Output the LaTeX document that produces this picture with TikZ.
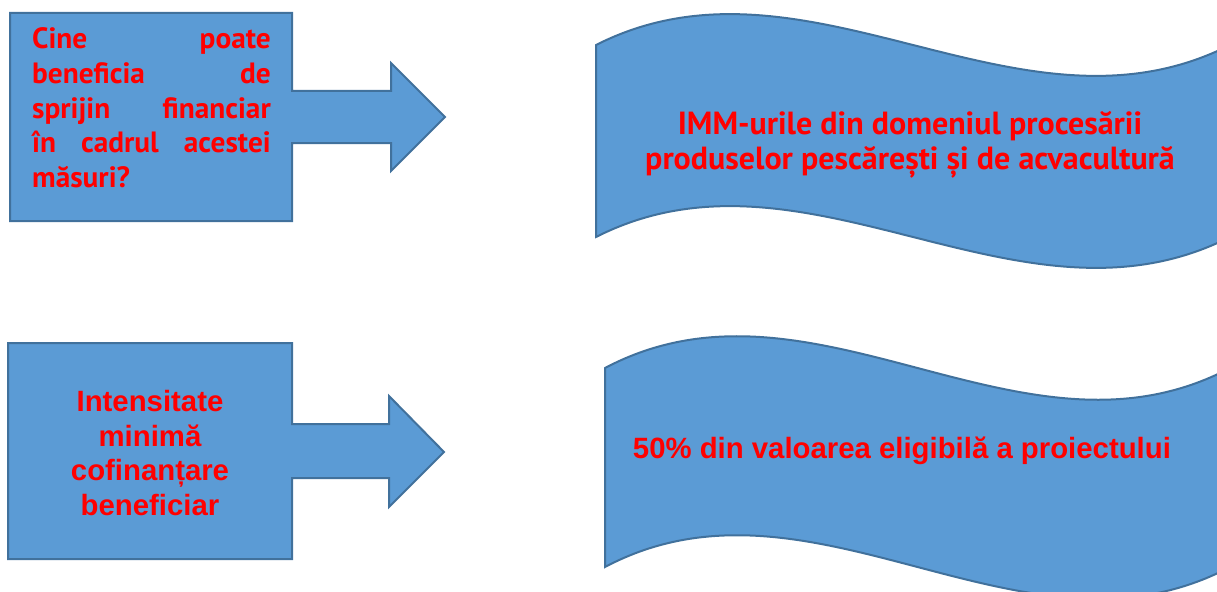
\documentclass[tikz,border=0pt]{standalone}
\usepackage{fontspec}
\setmainfont{PT Sans}
\newfontfamily\arialfont{Liberation Sans}
\usepackage{tikz}
\definecolor{boxfill}{HTML}{5B9BD5}
\definecolor{boxline}{HTML}{41719C}
\tikzstyle{bluebox}=[fill=boxfill, draw=boxline, line width=1.5pt, line join=miter]
\tikzstyle{redtext}=[text=red, font=\bfseries\fontsize{22}{26}\selectfont, align=center]
\tikzstyle{redwide}=[text=red, font=\bfseries\fontsize{24}{26.5}\selectfont, align=center]
\tikzstyle{redarial}=[text=red, font=\arialfont\bfseries\fontsize{22}{26}\selectfont, align=center]

\begin{document}
\begin{tikzpicture}[x=0.75pt, y=-0.75pt]
	\useasboundingbox (0,0) rectangle (1217,592);
	\clip (0,0) rectangle (1217,592);
	\begin{scope}
		\path [bluebox] (10,13) -- (292,13) -- (292,91) -- (391,91) -- (391,63) -- (445,117)
			-- (391,171) -- (391,143) -- (292,143) -- (292,221) -- (10,221) -- cycle;
		\path [bluebox] (8,343) -- (292,343) -- (292,424) -- (389,424) -- (389,396) -- (444,452)
			-- (389,507) -- (389,478) -- (292,478) -- (292,559) -- (8,559) -- cycle;
		\path [bluebox] (596,45) .. controls (807,-62) and (1019,152) .. (1230,45)
			-- (1230,237) .. controls (1019,344) and (807,130) .. (596,237) -- cycle;
		\path [bluebox] (605,368) .. controls (813,258) and (1022,478) .. (1230,368)
			-- (1230,567) .. controls (1022,677) and (813,457) .. (605,567) -- cycle;
	\end{scope}
	\begin{scope}
		\node (who) at (151.5,108) [redtext, text width=179pt, align=left] {
			Cine\hfill poate\\ beneficia\hfill de\\ sprijin\hfill financiar\\
			în\hfill cadrul\hfill acestei\\ măsuri?
		};
		\node (whoans) at (910,145) [redwide] {
			IMM-urile din domeniul procesării\\ produselor pescărești și de acvacultură
		};
		\node (rate) at (150,453) [redarial] {
			Intensitate\\ minimă\\ cofinanțare\\ beneficiar
		};
		\node (rateans) at (906,451) [redarial] {
			50\% din valoarea eligibilă a proiectului
		};
	\end{scope}
\end{tikzpicture}
\end{document}
